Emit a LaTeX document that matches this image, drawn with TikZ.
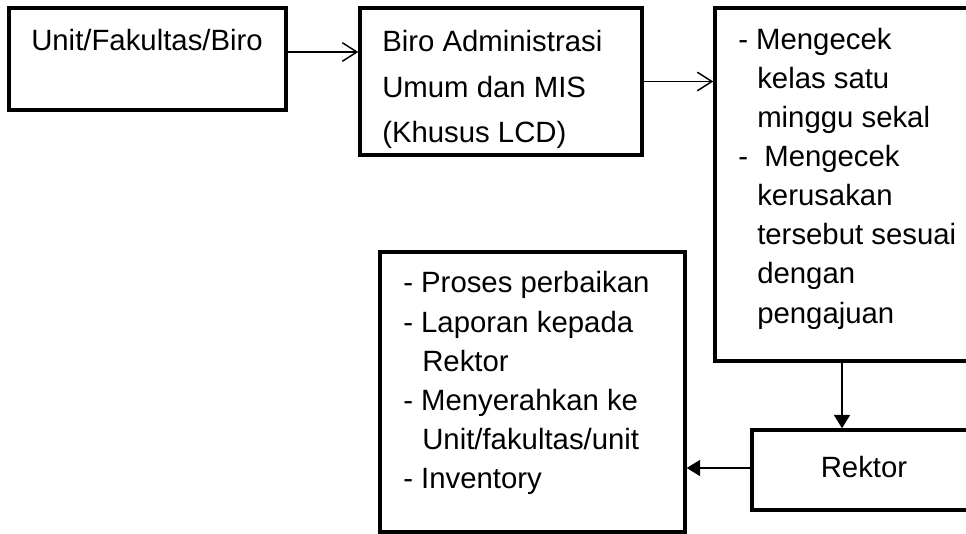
\documentclass[tikz,border=0pt]{standalone}
\usepackage{fontspec}
\setmainfont{Liberation Sans}
\usetikzlibrary{arrows.meta}
\newcommand\pxu{0.75pt}
\newcommand\boxfont{\fontsize{22pt}{29pt}\selectfont}
\begin{document}
\begin{tikzpicture}[x=0.75pt,y=-0.75pt,
  frame/.style={draw=black, line width=2.6pt, inner sep=0pt, rectangle},
  ln/.style={anchor=base west, inner sep=0pt, font=\boxfont},
  lnc/.style={anchor=base, inner sep=0pt, font=\boxfont},
  openarrow/.style={line width=1.1pt, -{Straight Barb[length=11pt,width=14pt,line width=1.1pt]}},
  fillarrow/.style={line width=1.1pt, -{Triangle[length=10pt,width=12pt]}}]
\useasboundingbox (0,0) rectangle (966,534);
\clip (0,0) rectangle (966,534);

% boxes
\node[frame, minimum width=277*\pxu, minimum height=102*\pxu] (b1) at (147.5,59) {};
\node[frame, minimum width=282*\pxu, minimum height=147*\pxu] (b2) at (501,81.5) {};
\node[frame, minimum width=285*\pxu, minimum height=353*\pxu] (b3) at (857.5,184.5) {};
\node[frame, minimum width=248*\pxu, minimum height=80*\pxu] (b4) at (876,470) {};
\node[frame, minimum width=305*\pxu, minimum height=280*\pxu] (b5) at (532.5,392) {};

% texts
\node[lnc] (t1) at (147,51) {Unit/Fakultas/Biro};

\node[ln] (t2a) at (382,52) {Biro Administrasi};
\node[ln] (t2b) at (382,98) {Umum dan MIS};
\node[ln] (t2c) at (382,143) {(Khusus LCD)};

\node[ln] (t3a) at (738,50) {- Mengecek};
\node[ln] (t3b) at (757,89) {kelas satu};
\node[ln] (t3c) at (757,128) {minggu sekal};
\node[ln] (t3d) at (738,167) {-\ \ Mengecek};
\node[ln] (t3e) at (757,206) {kerusakan};
\node[ln] (t3f) at (757,245) {tersebut sesuai};
\node[ln] (t3g) at (757,284) {dengan};
\node[ln] (t3h) at (757,323) {pengajuan};

\node[lnc] (t4) at (864,477) {Rektor};

\node[ln] (t5a) at (403,293) {- Proses perbaikan};
\node[ln] (t5b) at (403,332) {- Laporan kepada};
\node[ln] (t5c) at (422,371) {Rektor};
\node[ln] (t5d) at (403,410) {- Menyerahkan ke};
\node[ln] (t5e) at (422,449) {Unit/fakultas/unit};
\node[ln] (t5f) at (403,488) {- Inventory};

% connectors
\draw[openarrow] ([yshift=7*\pxu]b1.east) coordinate (s1) -- (s1 -| b2.west);
\draw[openarrow] (b2.east) -- (b2.east -| b3.west);
\coordinate (dx) at (842,0);
\draw[fillarrow] (b3.south -| dx) -- (b4.north -| dx);
\draw[fillarrow] ([yshift=2*\pxu]b4.west) coordinate (s4) -- (s4 -| b5.east);
\end{tikzpicture}
\end{document}
